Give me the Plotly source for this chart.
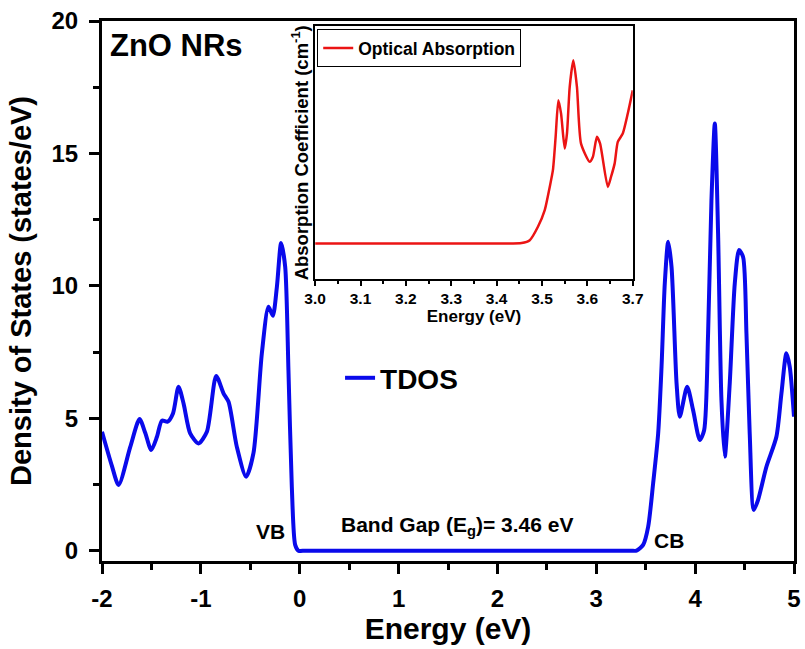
import plotly.graph_objects as go

# ---- Main TDOS data (energy in eV, DOS in states/eV) ----
tdos_energy = [-2.0, -1.90, -1.832, -1.714, -1.620, -1.562, -1.502, -1.444, -1.394, -1.337,
               -1.282, -1.226, -1.175, -1.108, -1.024, -0.939, -0.845, -0.771, -0.720, -0.636,
               -0.542, -0.468, -0.383, -0.316, -0.272, -0.231, -0.188, -0.147, -0.114, -0.080,
               -0.046, -0.013, 0.06, 1.0, 2.0, 3.0, 3.35, 3.407, 3.474, 3.525, 3.575, 3.626,
               3.660, 3.693, 3.727,
               3.761, 3.812, 3.845, 3.919, 3.979, 4.047, 4.091, 4.131, 4.165, 4.199,
               4.232, 4.266, 4.300, 4.350, 4.401, 4.444, 4.485, 4.519, 4.552, 4.593,
               4.636, 4.721, 4.822, 4.873, 4.923, 4.957, 5.0]
tdos_values = [4.49, 3.20, 2.48, 3.92, 4.97, 4.44, 3.80, 4.30, 4.91, 4.87,
               5.18, 6.19, 5.56, 4.43, 4.05, 4.49, 6.60, 5.94, 5.62, 3.92,
               2.79, 3.68, 7.45, 9.21, 8.87, 9.96, 11.62, 10.72, 6.82, 2.42,
               0.22, 0.0, 0.0, 0.0, 0.0, 0.0, 0.0, 0.0, 0.22, 0.91, 2.54, 4.43,
               6.94, 10.09, 11.66,
               10.72, 6.32, 5.06, 6.19, 5.31, 4.18, 4.55, 8.20, 13.23, 16.13,
               11.98, 5.69, 3.55, 6.32, 10.09, 11.35, 11.09, 8.20, 4.43, 1.54,
               1.91, 3.17, 4.30, 5.94, 7.45, 6.94, 5.06]

# ---- Inset optical absorption data (energy in eV, arbitrary units) ----
abs_energy = [3.0, 3.2, 3.4, 3.455, 3.473, 3.491, 3.506, 3.517, 3.524, 3.530,
              3.536, 3.542, 3.550, 3.555, 3.561, 3.569, 3.577, 3.586, 3.605, 3.612,
              3.621, 3.628, 3.645, 3.652, 3.660, 3.667, 3.678, 3.689, 3.700]
abs_values = [0.141, 0.141, 0.141, 0.143, 0.154, 0.207, 0.273, 0.365, 0.431, 0.563,
              0.708, 0.655, 0.517, 0.576, 0.760, 0.866, 0.760, 0.536, 0.464, 0.483,
              0.563, 0.536, 0.365, 0.404, 0.457, 0.543, 0.576, 0.655, 0.747]

main_xticks = [-2, -1, 0, 1, 2, 3, 4, 5]
main_yticks = [0, 5, 10, 15, 20]
inset_xticks = [3.0, 3.1, 3.2, 3.3, 3.4, 3.5, 3.6, 3.7]

FONT = "Liberation Sans, Arial, sans-serif"

fig = go.Figure()
fig.add_trace(go.Scatter(
    x=tdos_energy, y=tdos_values, mode="lines", name="TDOS", showlegend=True,
    line=dict(color="rgb(10,10,235)", width=4, shape="spline", smoothing=0.7),
    xaxis="x", yaxis="y", legend="legend",
))
fig.add_trace(go.Scatter(
    x=abs_energy, y=abs_values, mode="lines", name="Optical Absorption", showlegend=True,
    line=dict(color="rgb(235,20,20)", width=2.5, shape="spline", smoothing=0.6),
    xaxis="x2", yaxis="y2", legend="legend2",
))

axis_font = dict(family=FONT, size=24, color="black", weight="bold")

fig.update_layout(
    width=805, height=649,
    margin=dict(l=102, r=11, t=21, b=88, autoexpand=False),
    paper_bgcolor="white", plot_bgcolor="white",
    font=dict(family=FONT, color="black"),
    showlegend=True,
    xaxis=dict(
        range=[-2, 5], tickvals=main_xticks, ticktext=[str(v) for v in main_xticks],
        showgrid=False, zeroline=False, automargin=False,
        showline=True, linecolor="black", linewidth=3, mirror=True,
        ticks="outside", ticklen=10, tickwidth=3, tickcolor="black",
        minor=dict(dtick=0.5, ticks="outside", ticklen=6, tickwidth=3, tickcolor="black"),
        tickfont=axis_font, ticklabelstandoff=4,
        title=dict(text="Energy (eV)", font=dict(family=FONT, size=30, color="black", weight="bold"),
                   standoff=6),
    ),
    yaxis=dict(
        range=[-0.39, 20], tickvals=main_yticks, ticktext=[str(v) for v in main_yticks],
        showgrid=False, zeroline=False, automargin=False,
        showline=True, linecolor="black", linewidth=3, mirror=True,
        ticks="outside", ticklen=10, tickwidth=3, tickcolor="black",
        minor=dict(dtick=2.5, ticks="outside", ticklen=6, tickwidth=3, tickcolor="black"),
        tickfont=axis_font, ticklabelstandoff=6,
        title=dict(text="Density of States (states/eV)",
                   font=dict(family=FONT, size=29, color="black", weight="bold"), standoff=12),
    ),
    xaxis2=dict(
        domain=[0.308, 0.767], anchor="y2", range=[3.0, 3.7],
        tickvals=inset_xticks, ticktext=[f"{v:.1f}" for v in inset_xticks],
        showgrid=False, zeroline=False, automargin=False,
        showline=True, linecolor="black", linewidth=1.5, mirror=True,
        ticks="outside", ticklen=5, tickwidth=1.5, tickcolor="black",
        minor=dict(dtick=0.05, ticks="outside", ticklen=3, tickwidth=1.5, tickcolor="black"),
        tickfont=dict(family=FONT, size=15.5, color="black", weight="bold"),
        title=dict(text="Energy (eV)", font=dict(family=FONT, size=17, color="black", weight="bold"),
                   standoff=2),
    ),
    yaxis2=dict(
        domain=[0.522, 0.990], anchor="x2", range=[0, 1],
        showgrid=False, zeroline=False, showticklabels=False, ticks="", automargin=False,
        showline=True, linecolor="black", linewidth=1.5, mirror=True,
        title=dict(text="Absorption Coefficient (cm<sup>-1</sup>)",
                   font=dict(family=FONT, size=18.5, color="black", weight="bold"), standoff=0),
    ),
    legend=dict(
        x=0.344, y=0.3387, xanchor="left", yanchor="middle", visible=True,
        bgcolor="rgba(0,0,0,0)", borderwidth=0,
        font=dict(family=FONT, size=28, color="black", weight="bold"),
    ),
    legend2=dict(
        x=0.311, y=0.985, xanchor="left", yanchor="top", visible=True,
        bgcolor="white", bordercolor="black", borderwidth=1,
        font=dict(family=FONT, size=17.5, color="black", weight="bold"),
    ),
    annotations=[
        dict(text="ZnO NRs", xref="paper", yref="paper", x=0.009, y=0.955,
             xanchor="left", yanchor="middle", showarrow=False,
             font=dict(family=FONT, size=31, color="black", weight="bold")),
        dict(text="VB", xref="x", yref="y", x=-0.30, y=0.71,
             xanchor="center", yanchor="middle", showarrow=False,
             font=dict(family=FONT, size=21, color="black", weight="bold")),
        dict(text="CB", xref="x", yref="y", x=3.734, y=0.40,
             xanchor="center", yanchor="middle", showarrow=False,
             font=dict(family=FONT, size=21, color="black", weight="bold")),
        dict(text="Band Gap (E<sub>g</sub>)= 3.46 eV", xref="x", yref="y", x=1.59, y=0.95,
             xanchor="center", yanchor="middle", showarrow=False,
             font=dict(family=FONT, size=21, color="black", weight="bold")),
    ],
)

fig.write_html("out.html")
